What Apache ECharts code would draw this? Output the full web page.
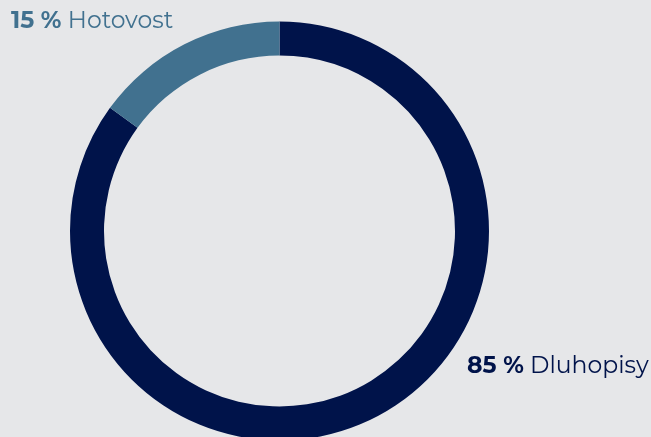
<!DOCTYPE html>
<html>
<head>
<meta charset="utf-8">
<script src="https://cdn.jsdelivr.net/npm/echarts@6/dist/echarts.min.js"></script>
<style>
  html, body { margin: 0; padding: 0; background: #e6e7e9; }
  #myChart { width: 651px; height: 437px; }
</style>
</head>
<body>
<div id="myChart"></div>
<script>
const categories = ['Dluhopisy', 'Hotovost']
const values = [85, 15]
const colors = ['#00134a', '#41718f']

let myChart = echarts.init(document.getElementById('myChart'))

let series = [{
    type: 'pie',
    center: [279.5, 231],
    radius: [175.5, 209.5],
    startAngle: 90,
    clockwise: true,
    silent: true,
    label: { show: false },
    labelLine: { show: false },
    data: categories.map((name, i) => ({
        name: name,
        value: values[i],
        itemStyle: { color: colors[i] }
    }))
}]

// label positions for each slice (left, vertical middle)
const labelPos = [[467, 366], [11, 21]]

let texts = categories.map((name, i) => ({
    type: 'text',
    left: labelPos[i][0],
    top: labelPos[i][1] - 12,
    style: {
        rich: {
            b: { fontWeight: 'bold', fontSize: 23.5, fill: colors[i], fontFamily: 'Montserrat, "Open Sans", sans-serif' },
            n: { fontSize: 23.5, fill: colors[i], padding: [0, 0, 0, 3], fontFamily: 'Montserrat, "Open Sans", sans-serif' }
        },
        text: '{b|' + values[i] + ' %} {n|' + name + '}'
    }
}))

let option = {
    backgroundColor: '#e6e7e9',
    animation: false,
    series: series,
    graphic: texts
}
myChart.setOption(option)
</script>
</body>
</html>
